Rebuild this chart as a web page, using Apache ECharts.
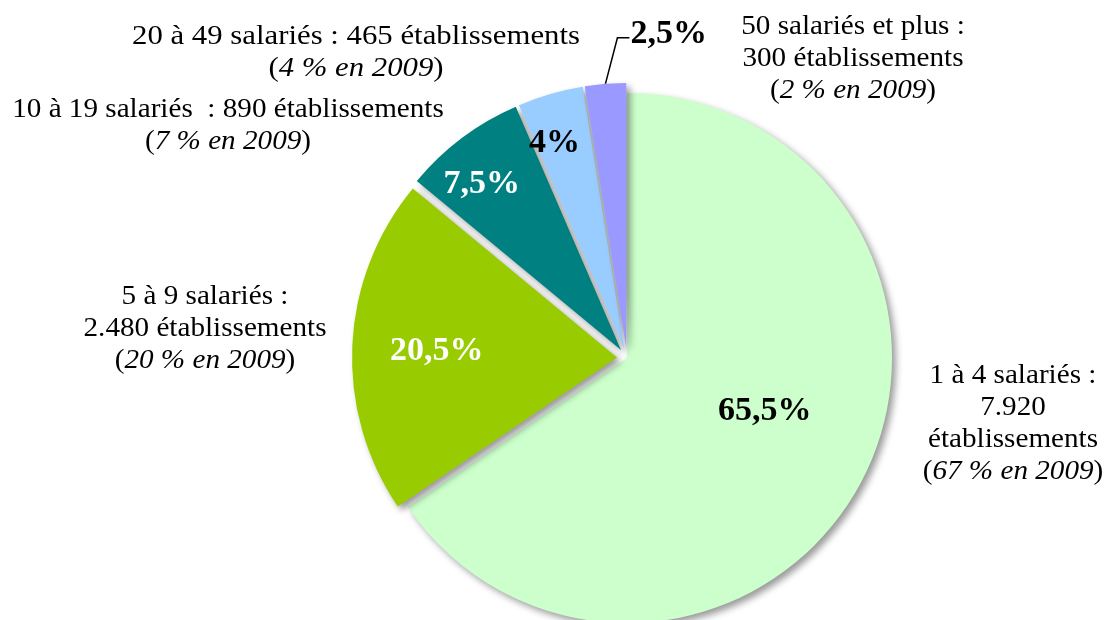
<!DOCTYPE html>
<html>
<head>
<meta charset="utf-8">
<script src="https://cdn.jsdelivr.net/npm/echarts@6/dist/echarts.min.js"></script>
<style>
  html, body { margin: 0; padding: 0; background: #fff; }
  #chart { width: 1107px; height: 620px; }
</style>
</head>
<body>
<div id="chart"></div>
<script>
// tranches de taille (salariés)
const categories = ['1 à 4 salariés', '5 à 9 salariés', '10 à 19 salariés', '20 à 49 salariés', '50 salariés et plus']
const shares = [65.5, 20.5, 7.5, 4, 2.5]
const counts = [7920, 2480, 890, 465, 300]
const shares2009 = [67, 20, 7, 4, 2]

const colors = ['#CCFFCC', '#99CC00', '#008080', '#99CCFF', '#9999FF']
const labelColors = ['#000', '#fff', '#fff', '#000', '#000']
// décalage des étiquettes internes
const labelShift = [[18, -10], [-45, 0], [-58, -57], [-32, -75], [0, 0]]

const FONT = "'Liberation Serif', 'Times New Roman', serif"

const fmtCount = n => String(n).replace(/\B(?=(\d{3})+(?!\d))/g, '.')
const fmtPct = v => String(v).replace('.', ',') + '%'

// textes des annotations (retours à la ligne comme sur l'original)
const buildText = i => {
  const name = categories[i]
  const c = fmtCount(counts[i])
  const paren = '({i|' + shares2009[i] + ' % en 2009})'
  if (i === 0) return [name + ' :', c, 'établissements', paren].join('\n')
  if (i === 1) return [name + ' :', c + ' établissements', paren].join('\n')
  if (i === 2) return [name + '  : ' + c + ' établissements', paren].join('\n')
  if (i === 3) return [name + ' : ' + c + ' établissements', paren].join('\n')
  return [name + ' :', c + ' établissements', paren].join('\n')
}
const notePos = [[1013, 360], [205, 281], [228, 94], [356, 21], [853, 11]]
const noteScale = [1.08, 1.08, 1.08, 1.14, 1.08]

const chart = echarts.init(document.getElementById('chart'))

chart.setOption({
  animation: false,
  series: [{
    type: 'pie',
    center: [627, 358],
    radius: 265,
    startAngle: 90,
    clockwise: true,
    selectedMode: 'multiple',
    selectedOffset: 10,
    emphasis: { disabled: true },
    itemStyle: {
      shadowBlur: 7,
      shadowOffsetX: 4,
      shadowOffsetY: 4,
      shadowColor: 'rgba(0,0,0,0.4)'
    },
    label: {
      show: true,
      position: 'inside',
      fontFamily: FONT,
      fontWeight: 'bold',
      fontSize: 34,
      formatter: p => fmtPct(p.value)
    },
    labelLine: { show: false },
    labelLayout: p => {
      const i = p.dataIndex
      if (i === 4 && p.labelLinePoints) {
        const a = p.labelLinePoints[0]
        const b = [a[0] + 12, a[1] - 46]
        const c = [b[0] + 12, b[1]]
        const r = p.labelRect
        return {
          dx: c[0] + 1 - r.x,
          dy: c[1] - 4 - (r.y + r.height / 2),
          labelLinePoints: [a, b, c]
        }
      }
      return { dx: labelShift[i][0], dy: labelShift[i][1] }
    },
    data: shares.map((v, i) => ({
      name: categories[i],
      value: v,
      selected: i > 0,
      itemStyle: { color: colors[i] },
      label: i === 4
        ? { position: 'outside', color: '#000' }
        : { color: labelColors[i] },
      labelLine: i === 4
        ? { show: true, length: 20, length2: 10, lineStyle: { color: '#000', width: 1.5 } }
        : { show: false }
    }))
  }],
  graphic: categories.map((c, i) => ({
    type: 'text',
    x: notePos[i][0],
    y: notePos[i][1],
    scaleX: noteScale[i],
    style: {
      text: buildText(i),
      fontFamily: FONT,
      fontSize: 27,
      lineHeight: 32,
      fill: '#000',
      align: 'center',
      verticalAlign: 'top',
      rich: {
        i: { fontFamily: FONT, fontSize: 27, fontStyle: 'italic', lineHeight: 32, fill: '#000' }
      }
    }
  }))
})
</script>
</body>
</html>
